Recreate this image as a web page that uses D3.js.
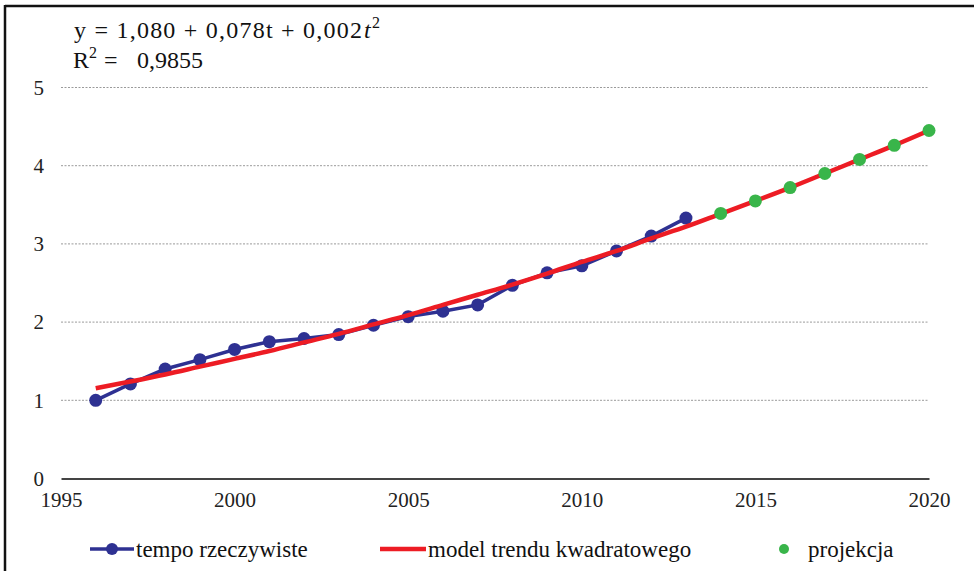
<!DOCTYPE html>
<html><head><meta charset="utf-8">
<script src="https://cdn.jsdelivr.net/npm/d3@7"></script>
<style>body{margin:0;background:#fff}svg{display:block}</style>
</head><body>
<svg id="c" width="974" height="571"></svg>
<script>
const actualYears = [1996,1997,1998,1999,2000,2001,2002,2003,2004,2005,2006,2007,2008,2009,2010,2011,2012,2013];
const actualValues = [1.00,1.21,1.40,1.52,1.65,1.75,1.79,1.84,1.96,2.07,2.14,2.22,2.47,2.63,2.72,2.91,3.10,3.33];
const trendYears = [1996,1997,1998,1999,2000,2001,2002,2003,2004,2005,2006,2007,2008,2009,2010,2011,2012,2013,2014,2015,2016,2017,2018,2019,2020];
const trendValues = [1.155,1.24,1.33,1.43,1.53,1.63,1.74,1.85,1.97,2.09,2.22,2.35,2.48,2.62,2.77,2.91,3.07,3.22,3.385,3.55,3.72,3.90,4.08,4.26,4.45];
const projYears = [2014,2015,2016,2017,2018,2019,2020];
const projValues = [3.39,3.55,3.72,3.90,4.08,4.26,4.45];
const xTicks = [1995,2000,2005,2010,2015,2020];
const yTicks = [0,1,2,3,4,5];
const legendLabels = ["tempo rzeczywiste","model trendu kwadratowego","projekcja"];

const blue="#2e3192", red="#ed1c24", green="#39b54a";
const svg=d3.select("#c");
const x=d3.scaleLinear().domain([1995,2020]).range([61,929]);
const y=d3.scaleLinear().domain([0,5]).range([478.5,87.5]);
const serif="'Liberation Serif','Times New Roman',serif";

// frame
svg.append("line").attr("x1",5).attr("x2",974).attr("y1",6).attr("y2",6).attr("stroke","#111").attr("stroke-width",2.5);
svg.append("line").attr("x1",5).attr("x2",5).attr("y1",5).attr("y2",571).attr("stroke","#111").attr("stroke-width",2.5);

// gridlines
svg.append("g").selectAll("line").data(yTicks.filter(d=>d>0)).join("line")
  .attr("x1",x(1995)).attr("x2",x(2020)).attr("y1",d=>y(d)).attr("y2",d=>y(d))
  .attr("stroke","#9a9a9a").attr("stroke-width",1).attr("stroke-dasharray","2,1.5");

// axes
const xa=svg.append("g").attr("transform",`translate(0,${y(0)})`)
  .call(d3.axisBottom(x).tickValues(xTicks).tickFormat(d3.format("d")).tickSize(0).tickPadding(14));
xa.attr("font-family",serif);
xa.select(".domain").attr("stroke","#444").attr("stroke-width",2);
xa.selectAll("text").attr("font-family",serif).attr("font-size",21).attr("fill","#222");

const ya=svg.append("g").attr("transform",`translate(${x(1995)},0)`)
  .call(d3.axisLeft(y).tickValues(yTicks).tickFormat(d3.format("d")).tickSize(0).tickPadding(17));
ya.attr("font-family",serif);
ya.select(".domain").remove();
ya.selectAll("text").attr("font-family",serif).attr("font-size",21).attr("fill","#222");

// actual line
const line=d3.line().x(d=>x(d[0])).y(d=>y(d[1]));
const act=actualYears.map((yr,i)=>[yr,actualValues[i]]);
svg.append("path").datum(act).attr("d",line).attr("fill","none").attr("stroke",blue).attr("stroke-width",3.5);
svg.append("g").selectAll("circle").data(act).join("circle")
  .attr("cx",d=>x(d[0])).attr("cy",d=>y(d[1])).attr("r",6.5).attr("fill",blue);

// trend
const tr=trendYears.map((yr,i)=>[yr,trendValues[i]]);
svg.append("path").datum(tr).attr("d",d3.line().curve(d3.curveMonotoneX).x(d=>x(d[0])).y(d=>y(d[1])))
  .attr("fill","none").attr("stroke",red).attr("stroke-width",4.5);

// projection
const pr=projYears.map((yr,i)=>[yr,projValues[i]]);
svg.append("g").selectAll("circle").data(pr).join("circle")
  .attr("cx",d=>x(d[0])).attr("cy",d=>y(d[1])).attr("r",6.5).attr("fill",green);

// equation
const eqg=svg.append("g").attr("font-family",serif).attr("fill","#111");
eqg.append("text").attr("x",74).attr("y",38).attr("font-size",24)
  .attr("textLength",288).attr("lengthAdjust","spacing").text("y  = 1,080  + 0,078t + 0,002");
eqg.append("text").attr("x",364).attr("y",38).attr("font-size",24).attr("font-style","italic").text("t");
eqg.append("text").attr("x",372).attr("y",28).attr("font-size",16).text("2");
eqg.append("text").attr("x",73).attr("y",68).attr("font-size",24).text("R");
eqg.append("text").attr("x",89).attr("y",58).attr("font-size",16).text("2");
eqg.append("text").attr("x",104).attr("y",68).attr("font-size",24).text("=");
eqg.append("text").attr("x",137).attr("y",68).attr("font-size",24).attr("textLength",66).text("0,9855");

// legend
const ly=549;
const lg=svg.append("g").attr("font-family",serif).attr("font-size",23).attr("fill","#111");
lg.append("line").attr("x1",90).attr("x2",134).attr("y1",ly).attr("y2",ly).attr("stroke",blue).attr("stroke-width",3.5);
lg.append("circle").attr("cx",112).attr("cy",ly).attr("r",6).attr("fill",blue);
lg.append("text").attr("x",136).attr("y",ly).attr("dy","0.35em").text(legendLabels[0]);
lg.append("line").attr("x1",380).attr("x2",426).attr("y1",ly).attr("y2",ly).attr("stroke",red).attr("stroke-width",4.5);
lg.append("text").attr("x",428).attr("y",ly).attr("dy","0.35em").text(legendLabels[1]);
lg.append("circle").attr("cx",784).attr("cy",ly).attr("r",5).attr("fill",green);
lg.append("text").attr("x",808).attr("y",ly).attr("dy","0.35em").text(legendLabels[2]);
</script>
</body></html>
